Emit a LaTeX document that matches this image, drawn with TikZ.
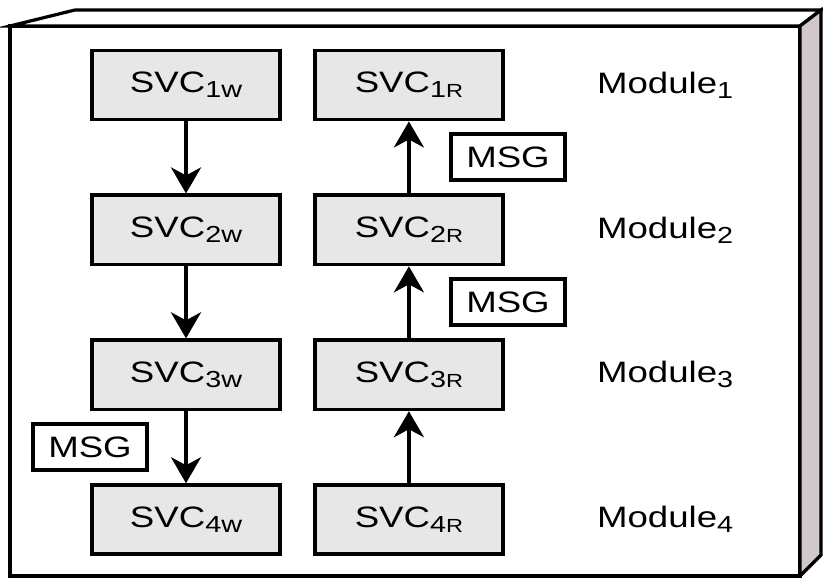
\documentclass[tikz,border=0pt]{standalone}
\usepackage{fontspec}
\setmainfont{Liberation Sans}[FakeStretch=1.24]
\usetikzlibrary{
  arrows.meta,
  positioning
}
\definecolor{BoxGray}{RGB}{231,231,231}
\definecolor{SideGray}{RGB}{208,200,204}
\newcommand{\lowsub}[1]{\raisebox{-3.5pt}{\fontsize{16.5}{18}\selectfont #1}}
\newcommand{\smallR}{{\fontsize{13.5}{15}\selectfont R}}
\tikzset{
  svcnode/.style={draw=black,fill=BoxGray,line width=2.6pt,minimum width=4.7cm,minimum height=1.73cm,align=center,font=\fontsize{21}{25}\selectfont},
  msgnode/.style={draw=black,fill=white,line width=2.6pt,minimum width=2.85cm,minimum height=1.15cm,align=center,font=\fontsize{21}{25}\selectfont},
  modlabel/.style={inner sep=0pt,font=\fontsize{21}{25}\selectfont},
  flowarrow/.style={-{Stealth[length=6.5mm,width=7.5mm,inset=2mm]},line width=2.6pt,draw=black},
  frameline/.style={line width=2.3pt,draw=black,line join=miter}
}
\begin{document}
\begin{tikzpicture}[x=0.025cm,y=-0.025cm,node distance=1.8cm and 0.78cm]
\useasboundingbox (0,0) rectangle (823,578);
% outer box
\draw[frameline,fill=white] (10,26) rectangle (800,576);
\draw[frameline,fill=white] (10,26) -- (75,10) -- (821,10) -- (800,26) -- cycle;
\draw[frameline,fill=SideGray] (800,26) -- (821,10) -- (821,555) -- (800,576) -- cycle;
% write column
\node[svcnode] (w1) at (186,85) {SVC\lowsub{1w}};
\node[svcnode, below=of w1] (w2) {SVC\lowsub{2w}};
\node[svcnode, below=of w2] (w3) {SVC\lowsub{3w}};
\node[svcnode, below=of w3] (w4) {SVC\lowsub{4w}};
% read column
\node[svcnode, right=of w1] (r1) {SVC\lowsub{1\smallR}};
\node[svcnode, right=of w2] (r2) {SVC\lowsub{2\smallR}};
\node[svcnode, right=of w3] (r3) {SVC\lowsub{3\smallR}};
\node[svcnode, right=of w4] (r4) {SVC\lowsub{4\smallR}};
% modules
\node[modlabel, right=2.3cm of r1] (m1) {Module\lowsub{1}};
\node[modlabel, right=2.3cm of r2] (m2) {Module\lowsub{2}};
\node[modlabel, right=2.3cm of r3] (m3) {Module\lowsub{3}};
\node[modlabel, right=2.3cm of r4] (m4) {Module\lowsub{4}};
% messages
\node[msgnode] (msg1) at (508,157) {MSG};
\node[msgnode] (msg2) at (508,302) {MSG};
\node[msgnode] (msg3) at (90,447) {MSG};
\draw[flowarrow] (w1) -- (w2);
\draw[flowarrow] (w2) -- (w3);
\draw[flowarrow] (w3) -- (w4);
\draw[flowarrow] (r4) -- (r3);
\draw[flowarrow] (r3) -- (r2);
\draw[flowarrow] (r2) -- (r1);
\end{tikzpicture}
\end{document}
